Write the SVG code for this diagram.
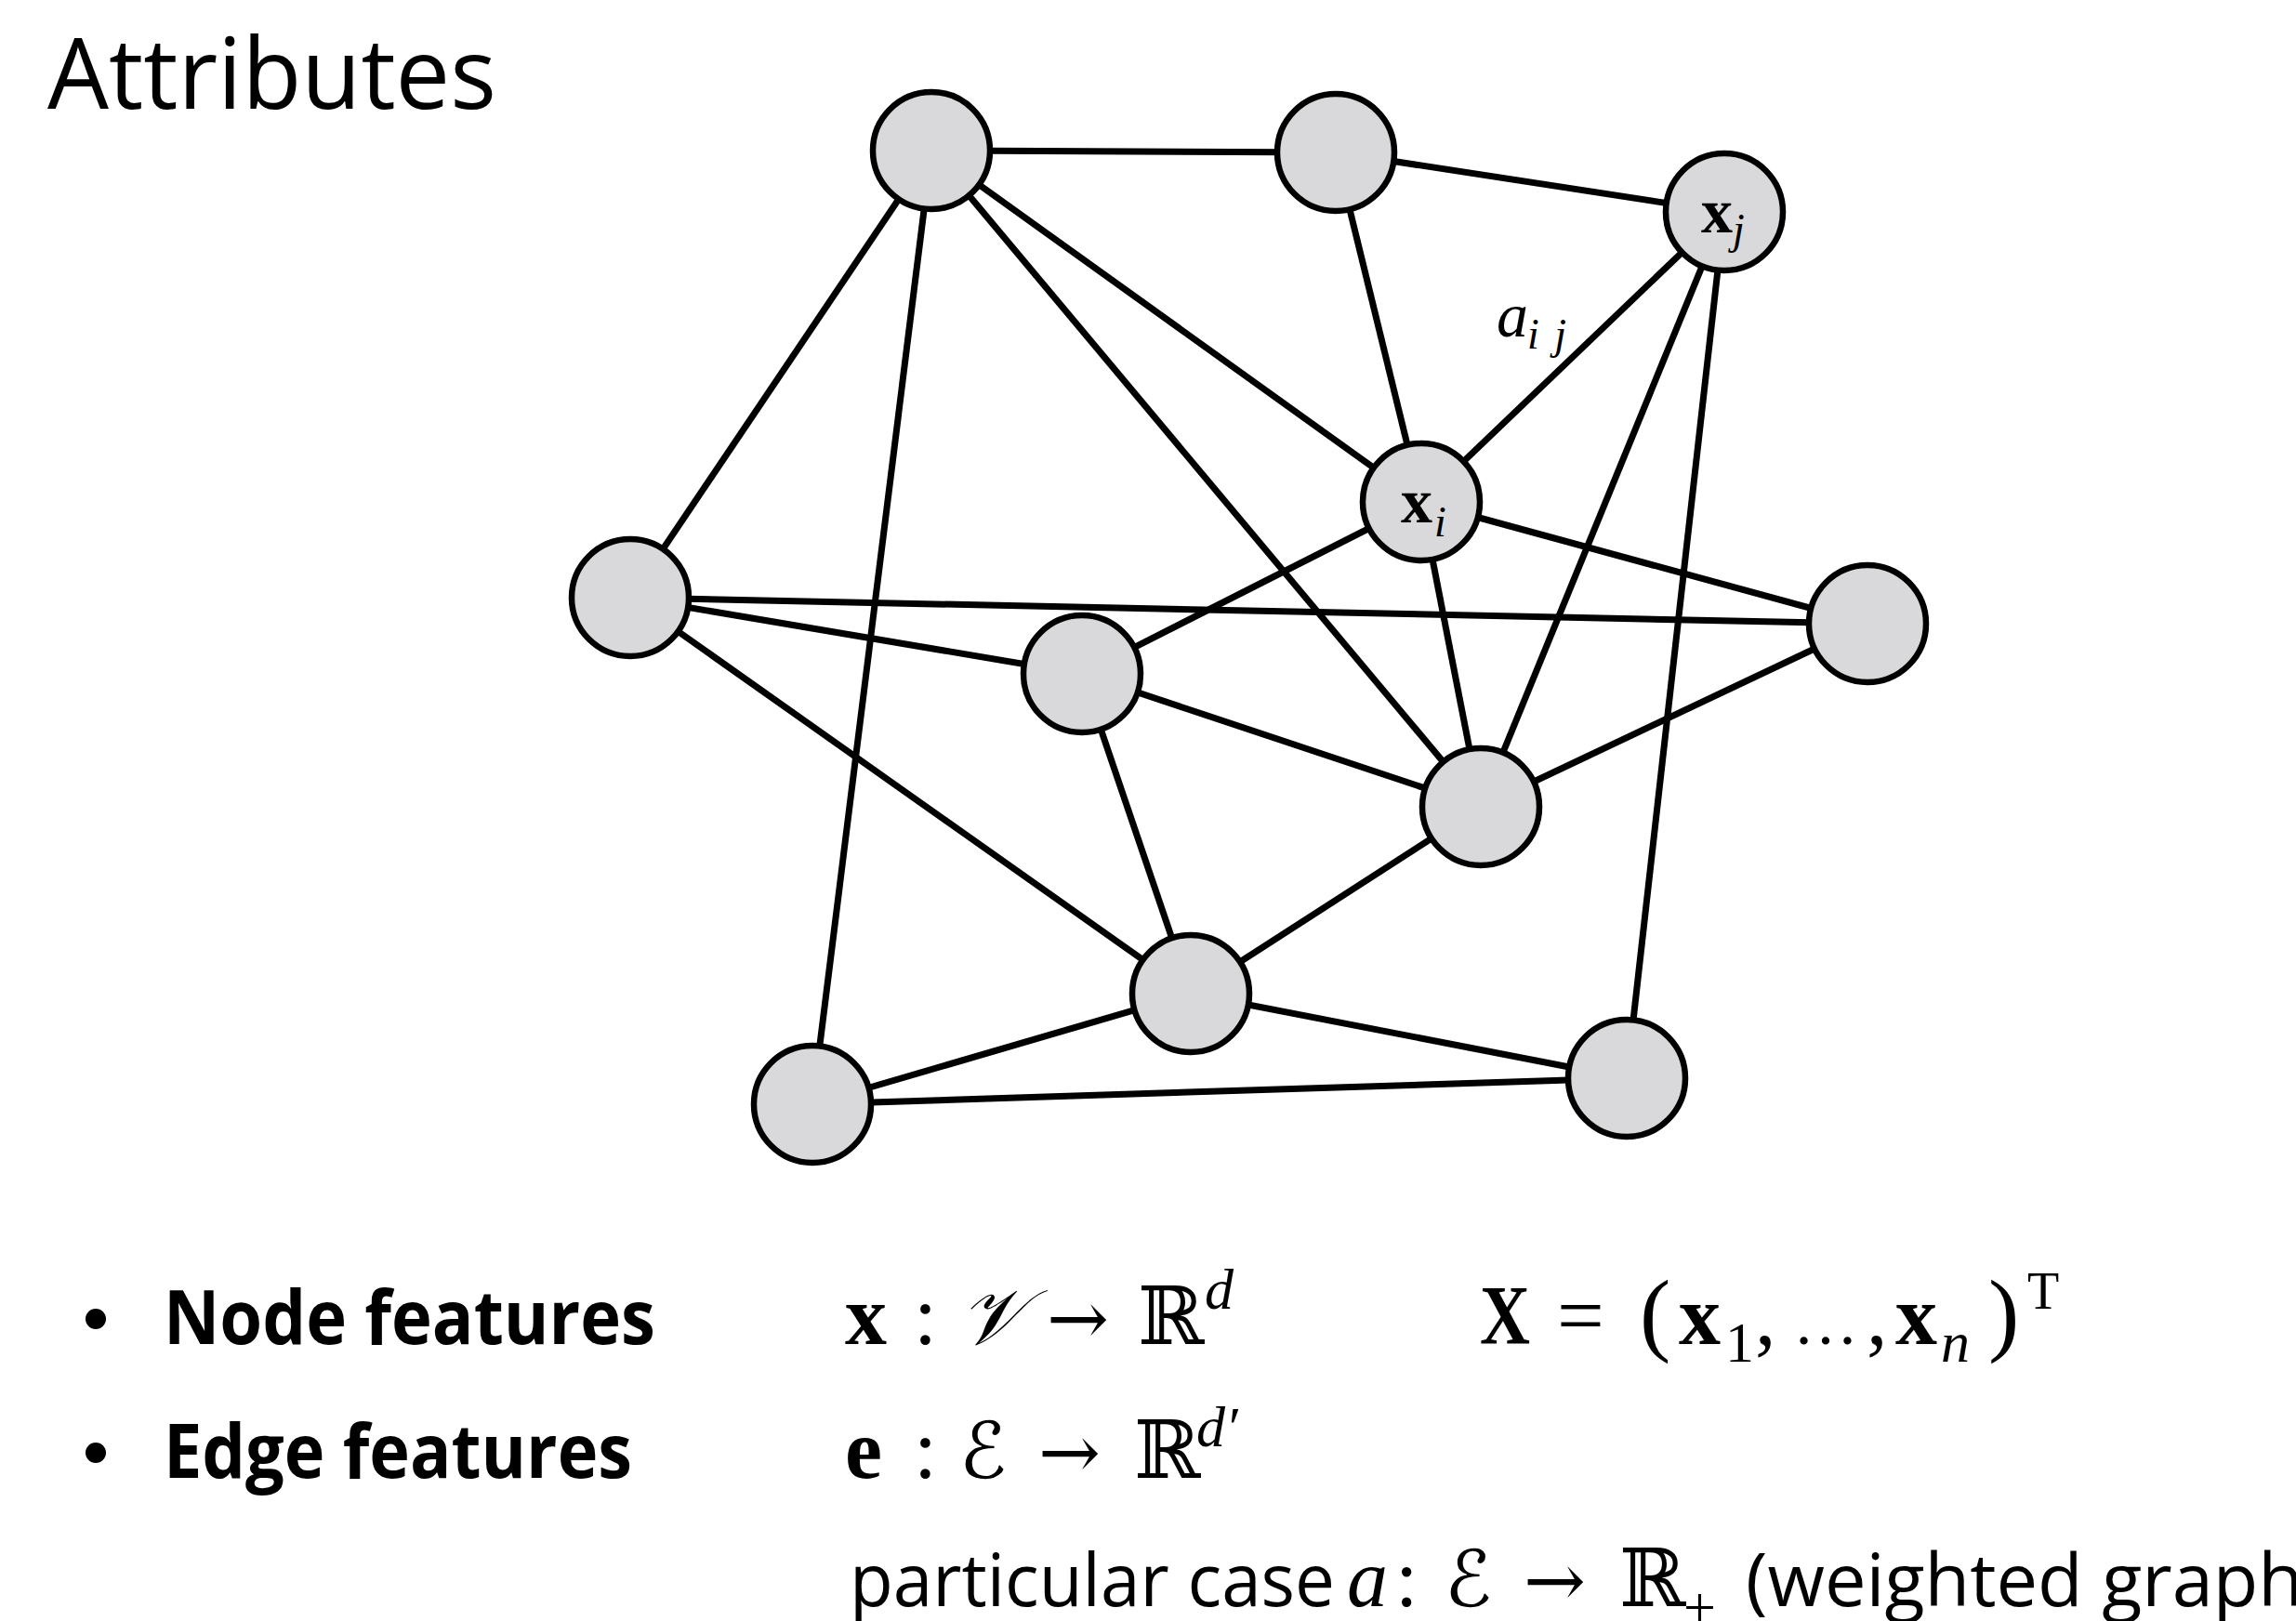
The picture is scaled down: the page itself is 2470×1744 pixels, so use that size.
<svg xmlns="http://www.w3.org/2000/svg" width="2470" height="1744" viewBox="0 0 2470 1744">
<style>
.edge{stroke:#000;stroke-width:7;stroke-linecap:butt}
.node{fill:#d9d9db;stroke:#000;stroke-width:6.5}
.sans{font-family:"Open Sans","Liberation Sans",sans-serif;fill:#000}
.bold{font-weight:700}
.m{font-family:"Liberation Serif","DejaVu Serif",serif;fill:#000}
.mb{font-family:"Liberation Serif","DejaVu Serif",serif;font-weight:700;fill:#000}
.mi{font-family:"Liberation Serif","DejaVu Serif",serif;font-style:italic;fill:#000}
.ms{font-family:"DejaVu Serif","DejaVu Sans",serif;fill:#000}
</style>
<rect width="2470" height="1744" fill="#fff"/>
<text class="sans" x="51" y="117" font-size="106" textLength="483" lengthAdjust="spacingAndGlyphs">Attributes</text>

<g id="connectors">
<line class="edge" x1="1002" y1="162" x2="1437" y2="164"/>
<line class="edge" x1="1437" y1="164" x2="1855" y2="228"/>
<line class="edge" x1="1002" y1="162" x2="678" y2="643"/>
<line class="edge" x1="1002" y1="162" x2="874" y2="1188"/>
<line class="edge" x1="1002" y1="162" x2="1529" y2="540"/>
<line class="edge" x1="1002" y1="162" x2="1593" y2="868"/>
<line class="edge" x1="1437" y1="164" x2="1529" y2="540"/>
<line class="edge" x1="1855" y1="228" x2="1529" y2="540"/>
<line class="edge" x1="1855" y1="228" x2="1593" y2="868"/>
<line class="edge" x1="1855" y1="228" x2="1750" y2="1160"/>
<line class="edge" x1="1529" y1="540" x2="1164" y2="725"/>
<line class="edge" x1="1529" y1="540" x2="2009" y2="671"/>
<line class="edge" x1="1529" y1="540" x2="1593" y2="868"/>
<line class="edge" x1="678" y1="643" x2="2009" y2="671"/>
<line class="edge" x1="678" y1="643" x2="1164" y2="725"/>
<line class="edge" x1="678" y1="643" x2="1281" y2="1069"/>
<line class="edge" x1="1164" y1="725" x2="1593" y2="868"/>
<line class="edge" x1="1164" y1="725" x2="1281" y2="1069"/>
<line class="edge" x1="1593" y1="868" x2="2009" y2="671"/>
<line class="edge" x1="1593" y1="868" x2="1281" y2="1069"/>
<line class="edge" x1="1281" y1="1069" x2="874" y2="1188"/>
<line class="edge" x1="1281" y1="1069" x2="1750" y2="1160"/>
<line class="edge" x1="874" y1="1188" x2="1750" y2="1160"/>
<text class="mi" x="1610" y="362" font-size="68">a</text>
<text class="mi" x="1643" y="375" font-size="46" textLength="42" lengthAdjust="spacing">ij</text>
</g>

<g id="n1"><circle class="node" cx="1002" cy="162" r="63"/></g>
<g id="n2"><circle class="node" cx="1437" cy="164" r="63"/></g>
<g id="xj"><circle class="node" cx="1855" cy="228" r="63"/>
<text class="mb" x="1830" y="250" font-size="68">x</text><text class="mi" x="1864" y="262" font-size="46">j</text></g>
<g id="xi"><circle class="node" cx="1529" cy="540" r="63"/>
<text class="mb" x="1507" y="562" font-size="68">x</text><text class="mi" x="1543" y="577" font-size="46">i</text></g>
<g id="n5"><circle class="node" cx="678" cy="643" r="63"/></g>
<g id="n6"><circle class="node" cx="2009" cy="671" r="63"/></g>
<g id="n7"><circle class="node" cx="1164" cy="725" r="63"/></g>
<g id="n8"><circle class="node" cx="1593" cy="868" r="63"/></g>
<g id="n9"><circle class="node" cx="1281" cy="1069" r="63"/></g>
<g id="n10"><circle class="node" cx="874" cy="1188" r="63"/></g>
<g id="n11"><circle class="node" cx="1750" cy="1160" r="63"/></g>

<g id="legend">
<circle cx="103" cy="1419" r="11" fill="#000"/>
<circle cx="103" cy="1563" r="11" fill="#000"/>
<text class="sans bold" x="176" y="1446" font-size="81" textLength="529" lengthAdjust="spacingAndGlyphs">Node features</text>
<text class="sans bold" x="176" y="1590" font-size="81" textLength="504" lengthAdjust="spacingAndGlyphs">Edge features</text>

<text class="mb" x="909" y="1446" font-size="90">x</text>
<text class="m" x="983" y="1446" font-size="90">:</text>
<text class="ms" x="1032" y="1446" font-size="84" font-style="italic">𝒱</text>
<text class="ms" x="1126" y="1446" font-size="80">→</text>
<text class="ms" x="1224" y="1446" font-size="86">ℝ</text>
<text class="mi" x="1296" y="1408" font-size="62">d</text>
<text class="mb" x="1592" y="1446" font-size="90" textLength="54" lengthAdjust="spacingAndGlyphs">X</text>
<text class="m" x="1675" y="1446" font-size="90">=</text>
<text class="m" x="1764" y="1446" font-size="100">(</text>
<text class="mb" x="1806" y="1446" font-size="90">x</text>
<text class="m" x="1856" y="1465" font-size="62">1</text>
<text class="m" x="1888" y="1446" font-size="90">,</text>
<text class="m" x="1929" y="1446" font-size="70">…</text>
<text class="m" x="2008" y="1446" font-size="90">,</text>
<text class="mb" x="2039" y="1446" font-size="90">x</text>
<text class="mi" x="2088" y="1465" font-size="62">n</text>
<text class="m" x="2139" y="1446" font-size="100">)</text>
<text class="m" x="2181" y="1408" font-size="56">T</text>

<text class="mb" x="909" y="1590" font-size="90">e</text>
<text class="m" x="983" y="1590" font-size="90">:</text>
<text class="ms" x="1032" y="1590" font-size="84">ℰ</text>
<text class="ms" x="1117" y="1590" font-size="80">→</text>
<text class="ms" x="1220" y="1590" font-size="86">ℝ</text>
<text class="mi" x="1287" y="1556" font-size="62">d′</text>

<text class="sans" x="914" y="1728" font-size="78" textLength="522" lengthAdjust="spacingAndGlyphs">particular case</text>
<text class="mi" x="1449" y="1728" font-size="88">a</text>
<text class="m" x="1501" y="1728" font-size="88">:</text>
<text class="ms" x="1554" y="1728" font-size="84">ℰ</text>
<text class="ms" x="1639" y="1728" font-size="80">→</text>
<text class="ms" x="1742" y="1728" font-size="86">ℝ</text>
<text class="m" x="1811" y="1750" font-size="62">+</text>
<text class="sans" x="1878" y="1728" font-size="78" textLength="600" lengthAdjust="spacingAndGlyphs">(weighted graph</text>
</g>
</svg>
